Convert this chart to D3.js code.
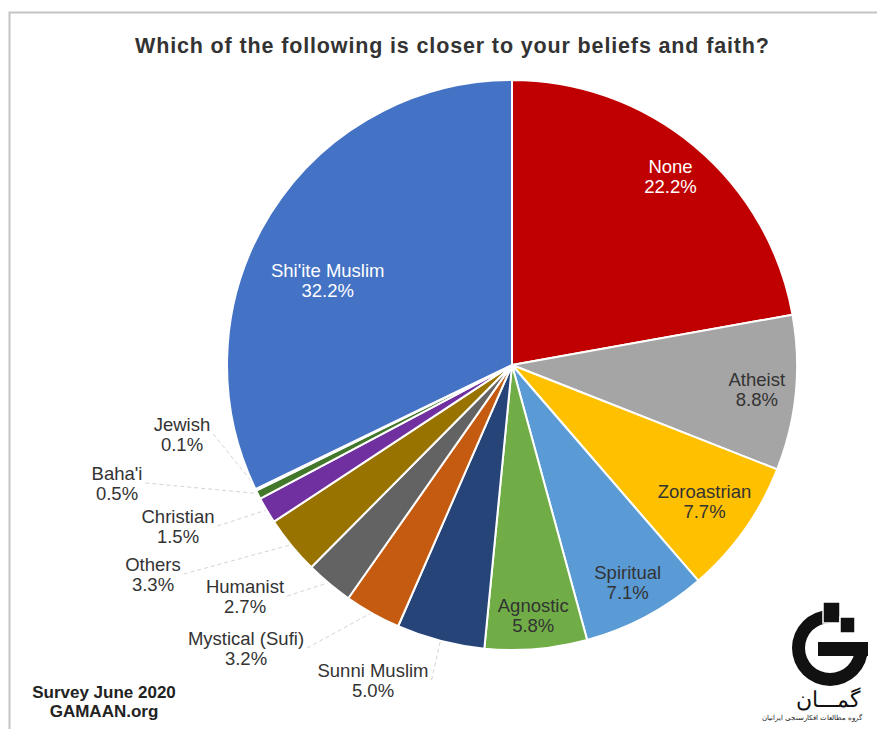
<!DOCTYPE html>
<html>
<head>
<meta charset="utf-8">
<script src="https://cdn.jsdelivr.net/npm/d3@7"></script>
<style>
  html, body { margin: 0; padding: 0; background: #fff; }
  svg { display: block; }
  text { font-family: "Liberation Sans", Arial, Helvetica, sans-serif; }
</style>
</head>
<body>
<svg id="chart" width="877" height="729"></svg>
<script>
// Survey answers, clockwise from 12 o'clock
const categories = ["None", "Atheist", "Zoroastrian", "Spiritual", "Agnostic", "Sunni Muslim",
  "Mystical (Sufi)", "Humanist", "Others", "Christian", "Baha'i", "Jewish", "Shi'ite Muslim"];
const values = [22.2, 8.8, 7.7, 7.1, 5.8, 5.0, 3.2, 2.7, 3.3, 1.5, 0.5, 0.1, 32.2];
const percentLabels = ["22.2%", "8.8%", "7.7%", "7.1%", "5.8%", "5.0%", "3.2%", "2.7%", "3.3%", "1.5%", "0.5%", "0.1%", "32.2%"];
const sliceColors = ["#c00000", "#a5a5a5", "#ffc000", "#5b9bd5", "#70ad47", "#264478",
  "#c55a11", "#636363", "#997300", "#7030a0", "#43782b", "#e4ecf6", "#4472c4"];

const title = "Which of the following is closer to your beliefs and faith?";
const sourceLines = ["Survey June 2020", "GAMAAN.org"];

// Label placement: inside labels sit on a polar radius (optionally with an angle in degrees),
// outside labels are given as offsets from the pie centre with a leader line.
const labelLayout = {
  "None":            { inside: true, r: 247, color: "#fff" },
  "Atheist":         { inside: true, r: 246 },
  "Zoroastrian":     { inside: true, r: 236 },
  "Spiritual":       { inside: true, r: 246 },
  "Agnostic":        { inside: true, r: 251 },
  "Shi'ite Muslim":  { inside: true, r: 203, angle: 294.8, color: "#fff" },
  "Sunni Muslim":    { dx: -139, dy: 315 },
  "Mystical (Sufi)": { dx: -266, dy: 283 },
  "Humanist":        { dx: -267, dy: 231 },
  "Others":          { dx: -359, dy: 209 },
  "Christian":       { dx: -334, dy: 161 },
  "Baha'i":          { dx: -395, dy: 118 },
  "Jewish":          { dx: -330, dy: 69 }
};

const svg = d3.select("#chart");
const W = 877, H = 729;
const cx = 512, cy = 365, R = 285;

// frame
svg.append("path")
  .attr("d", `M9.5,${H} L9.5,12.5 L${W},12.5`)
  .attr("fill", "none").attr("stroke", "#c4c4c4").attr("stroke-width", 2);

// title
svg.append("text")
  .attr("x", 452).attr("y", 53)
  .attr("text-anchor", "middle")
  .attr("font-size", 21.5).attr("font-weight", "bold")
  .attr("fill", "#333")
  .attr("textLength", 634)
  .attr("lengthAdjust", "spacing")
  .text(title);

const data = categories.map((c, i) => ({ name: c, value: values[i], label: percentLabels[i], color: sliceColors[i] }));

const pie = d3.pie().sort(null).value(d => d.value);
const arcs = pie(data);
const arc = d3.arc().innerRadius(0).outerRadius(R);

const g = svg.append("g").attr("transform", `translate(${cx},${cy})`);

const leaders = g.append("g");

g.selectAll("path.slice")
  .data(arcs)
  .join("path")
  .attr("class", "slice")
  .attr("d", arc)
  .attr("fill", d => d.data.color)
  .attr("stroke", "#fff")
  .attr("stroke-width", 2)
  .attr("stroke-linejoin", "round");

const polar = (a, r) => [r * Math.sin(a), -r * Math.cos(a)];

const labels = g.append("g");

arcs.forEach(d => {
  const lay = labelLayout[d.data.name];
  const mid = (d.startAngle + d.endAngle) / 2;
  let x, y;
  if (lay.inside) {
    const a = lay.angle !== undefined ? lay.angle * Math.PI / 180 : mid;
    [x, y] = polar(a, lay.r);
  } else {
    x = lay.dx; y = lay.dy;
  }
  const t = labels.append("text")
    .attr("text-anchor", "middle")
    .attr("font-size", 18.5)
    .attr("fill", lay.color || "#333");
  t.append("tspan").attr("x", x).attr("y", y - 3).text(d.data.name);
  t.append("tspan").attr("x", x).attr("y", y + 17).text(d.data.label);

  if (!lay.inside) {
    const w = Math.max(t.node().getBBox().width, 10);
    const start = [x + w / 2 + 3, y];
    const end = polar(mid, R - 2);
    leaders.append("line")
      .attr("x1", start[0]).attr("y1", start[1])
      .attr("x2", end[0]).attr("y2", end[1])
      .attr("stroke", "#d4d4d4")
      .attr("stroke-width", 1)
      .attr("stroke-dasharray", "4,3");
  }
});

// source note
const src = svg.append("text")
  .attr("text-anchor", "middle")
  .attr("font-size", 17).attr("font-weight", "bold")
  .attr("fill", "#222");
src.append("tspan").attr("x", 104).attr("y", 698).text(sourceLines[0]);
src.append("tspan").attr("x", 104).attr("y", 717).text(sourceLines[1]);

// GAMAAN logo mark
const logo = svg.append("g").attr("transform", "translate(830,648)");
logo.append("path")
  .attr("d", d3.arc().innerRadius(25).outerRadius(38).startAngle(Math.PI / 2).endAngle(2 * Math.PI)())
  .attr("fill", "#111");
logo.append("rect").attr("x", -12).attr("y", -6).attr("width", 50).attr("height", 14).attr("fill", "#111");
logo.append("rect").attr("x", -7).attr("y", -46).attr("width", 17).attr("height", 21)
  .attr("fill", "#111").attr("stroke", "#fff").attr("stroke-width", 1.5);
logo.append("rect").attr("x", 10).attr("y", -31).attr("width", 15).attr("height", 16)
  .attr("fill", "#111").attr("stroke", "#fff").attr("stroke-width", 1.5);

svg.append("text")
  .attr("x", 828).attr("y", 707)
  .attr("text-anchor", "middle")
  .attr("font-family", "DejaVu Sans, sans-serif")
  .attr("font-size", 22)
  .attr("fill", "#111")
  .text("گمـــان");
svg.append("text")
  .attr("x", 812).attr("y", 720)
  .attr("text-anchor", "middle")
  .attr("font-family", "DejaVu Sans, sans-serif")
  .attr("font-size", 6.5)
  .attr("fill", "#222")
  .text("گروه مطالعات افکارسنجی ایرانیان");
</script>
</body>
</html>
